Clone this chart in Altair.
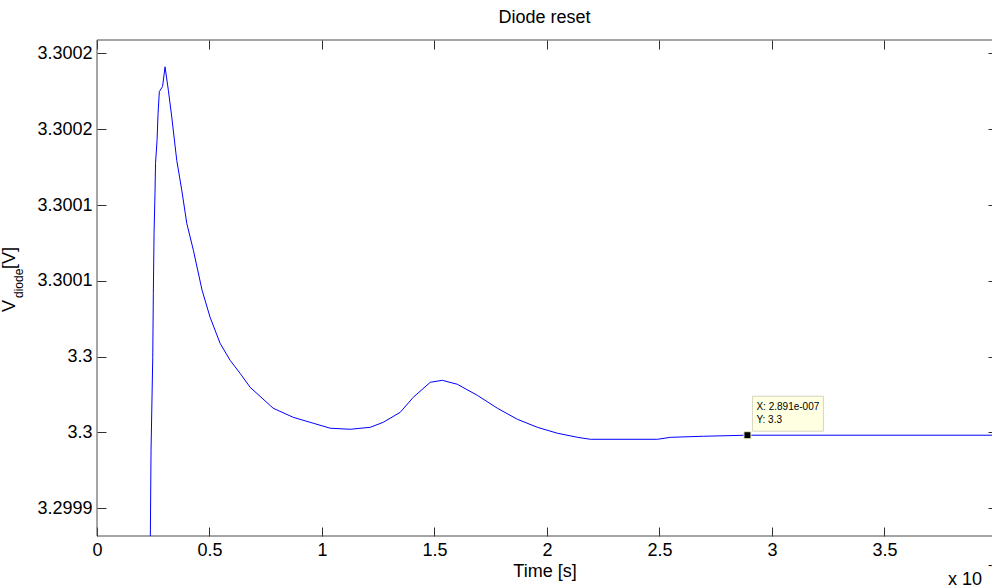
import altair as alt
import pandas as pd

# ---------------- data ----------------
title_text = "Diode reset"
x_title = "Time [s]"

# time in units of 1e-7 s
time_e7 = [0.2358, 0.2371, 0.2402, 0.2478, 0.2504, 0.2536, 0.2580, 0.2602, 0.2669, 0.2714,
           0.2771, 0.2914, 0.3025, 0.3172, 0.3323, 0.3545, 0.3768, 0.3990, 0.4284, 0.4671,
           0.5027, 0.5472, 0.5916, 0.6361, 0.6806, 0.7829, 0.8719, 0.9609, 1.0365, 1.1254,
           1.2144, 1.2722, 1.3479, 1.4057, 1.4813, 1.5347, 1.6014, 1.6904, 1.7794, 1.8683,
           1.9573, 2.0463, 2.1352, 2.1931, 2.4911, 2.5489, 2.6957, 2.8910, 4.0]
v_diode = [3.2998657, 3.2998815, 3.2999383, 3.2999996, 3.3000418, 3.3000814, 3.3001098, 3.3001276, 3.3001427, 3.3001605,
           3.3001749, 3.3001782, 3.3001912, 3.3001757, 3.3001581, 3.3001295, 3.3001098, 3.3000880, 3.3000702, 3.3000438,
           3.3000260, 3.3000088, 3.2999976, 3.2999890, 3.2999798, 3.2999660, 3.2999600, 3.2999561, 3.2999528, 3.2999521,
           3.2999534, 3.2999567, 3.2999633, 3.2999732, 3.2999831, 3.2999844, 3.2999818, 3.2999745, 3.2999660, 3.2999587,
           3.2999534, 3.2999495, 3.2999468, 3.2999455, 3.2999455, 3.2999468, 3.2999475, 3.2999482, 3.2999482]

x_ticks = [0, 0.5, 1, 1.5, 2, 2.5, 3, 3.5]
y_ticks = [3.2999, 3.29995, 3.3, 3.30005, 3.3001, 3.30015, 3.3002]
y_tick_labels = ["3.2999", "3.3", "3.3", "3.3001", "3.3001", "3.3002", "3.3002"]

tip_t = [2.891]
tip_v = [3.2999482]
tip_x_text = ["X: 2.891e-007"]
tip_y_text = ["Y: 3.3"]

X_DOMAIN = [0, 3.978]
Y_DOMAIN = [3.2998817, 3.3002089]

FONT = "Liberation Sans"
FRAME = "#4a4a4a"
TICK = "#303030"

df = pd.DataFrame({"t": time_e7, "v": v_diode})
tip = pd.DataFrame({"t": tip_t, "v": tip_v, "lx": tip_x_text, "ly": tip_y_text})
one = pd.DataFrame({"k": [0]})

xs = alt.Scale(domain=X_DOMAIN, nice=False, zero=False)
ys = alt.Scale(domain=Y_DOMAIN, nice=False, zero=False)

label_expr = " : ".join(
    f"abs(datum.value - {v}) < 1e-9 ? '{l}'" for v, l in zip(y_ticks, y_tick_labels)
) + " : datum.label"

common_axis = dict(grid=False, domain=False, labelFont=FONT, labelFontSize=18, labelColor="black",
                   tickColor=TICK, tickWidth=1, labelOverlap=False, labelFlush=False)

x_bottom = alt.Axis(orient="bottom", values=x_ticks, format="~g", offset=-9, tickSize=9,
                    labelPadding=5, title=x_title, titleFont=FONT, titleFontSize=18,
                    titleFontWeight="normal", titleColor="black", titlePadding=3, **common_axis)
y_left = alt.Axis(orient="left", values=y_ticks, labelExpr=label_expr, offset=-9, tickSize=9,
                  labelPadding=5, title=None, **common_axis)
x_top = alt.Axis(orient="top", values=x_ticks, offset=-9, tickSize=9, labels=False, title=None,
                 grid=False, domain=False, tickColor=TICK)
y_right = alt.Axis(orient="right", values=y_ticks, offset=-4, tickSize=4, labels=False, title=None,
                   grid=False, domain=False, tickColor=TICK)

line = alt.Chart(df).mark_line(color="#0000FF", strokeWidth=1, clip=True).encode(
    x=alt.X("t:Q", scale=xs, axis=x_bottom),
    y=alt.Y("v:Q", scale=ys, axis=y_left),
)

other_axes = alt.Chart(tip).mark_point(opacity=0).encode(
    x=alt.X("t:Q", scale=xs, axis=x_top),
    y=alt.Y("v:Q", scale=ys, axis=y_right),
)

frame_left = alt.Chart(one).mark_rule(color=FRAME, strokeWidth=1).encode(
    x=alt.datum(X_DOMAIN[0], axis=None))
frame_bottom = alt.Chart(one).mark_rule(color=FRAME, strokeWidth=1).encode(
    y=alt.datum(Y_DOMAIN[0], axis=None))
frame_top = alt.Chart(one).mark_rule(color=FRAME, strokeWidth=1).encode(
    y=alt.datum(Y_DOMAIN[1], axis=None))

tip_box = alt.Chart(tip).mark_rect(fill="#FFFFE1", stroke="#D6D6C2", strokeWidth=1,
                                   xOffset=5, x2Offset=76, yOffset=-39, y2Offset=-4).encode(
    x=alt.X("t:Q", axis=None), x2="t:Q", y=alt.Y("v:Q", axis=None), y2="v:Q")
tip_marker = alt.Chart(tip).mark_square(size=49, filled=True, color="black", stroke="#EDEDC8",
                                        strokeWidth=1, opacity=1).encode(
    x=alt.X("t:Q", axis=None), y=alt.Y("v:Q", axis=None))
tip_lx = alt.Chart(tip).mark_text(align="left", baseline="middle", dx=9, dy=-28, fontSize=10,
                                  font=FONT, color="black").encode(
    x=alt.X("t:Q", axis=None), y=alt.Y("v:Q", axis=None), text="lx:N")
tip_ly = alt.Chart(tip).mark_text(align="left", baseline="middle", dx=9, dy=-15, fontSize=10,
                                  font=FONT, color="black").encode(
    x=alt.X("t:Q", axis=None), y=alt.Y("v:Q", axis=None), text="ly:N")

# y-axis title  V_diode [V]  (rotated, with subscript)
ytitle_v = alt.Chart(one).mark_text(angle=270, align="left", baseline="alphabetic", fontSize=18,
                                    font=FONT, color="black").encode(
    x=alt.value(-82), y=alt.value(272), text=alt.value("V"))
ytitle_sub = alt.Chart(one).mark_text(angle=270, align="left", baseline="alphabetic", fontSize=12,
                                      font=FONT, color="black").encode(
    x=alt.value(-74), y=alt.value(258), text=alt.value("diode"))
ytitle_unit = alt.Chart(one).mark_text(angle=270, align="left", baseline="alphabetic", fontSize=18,
                                       font=FONT, color="black").encode(
    x=alt.value(-82), y=alt.value(229), text=alt.value(" [V]"))

# exponent note  x 10^-7
exp_base = alt.Chart(one).mark_text(align="left", baseline="alphabetic", fontSize=18,
                                    font=FONT, color="black").encode(
    x=alt.value(851), y=alt.value(545), text=alt.value("x 10"))
exp_sup = alt.Chart(one).mark_text(align="left", baseline="alphabetic", fontSize=13,
                                   font=FONT, color="black").encode(
    x=alt.value(891), y=alt.value(529), text=alt.value("-7"))

chart = alt.layer(
    frame_left, frame_bottom, frame_top, line, other_axes,
    tip_box, tip_marker, tip_lx, tip_ly,
    ytitle_v, ytitle_sub, ytitle_unit, exp_base, exp_sup,
).resolve_axis(x="independent", y="independent").properties(
    width=895, height=496,
    autosize=alt.AutoSizeParams(type="none"),
    padding={"left": 97, "top": 40, "right": 0, "bottom": 52},
    background="white",
    title=alt.TitleParams(title_text, font=FONT, fontSize=18, fontWeight="normal", color="black",
                          anchor="middle", offset=13),
).configure_view(stroke=None)

chart.save("out.html", embed_options={"renderer": "svg", "actions": False})
